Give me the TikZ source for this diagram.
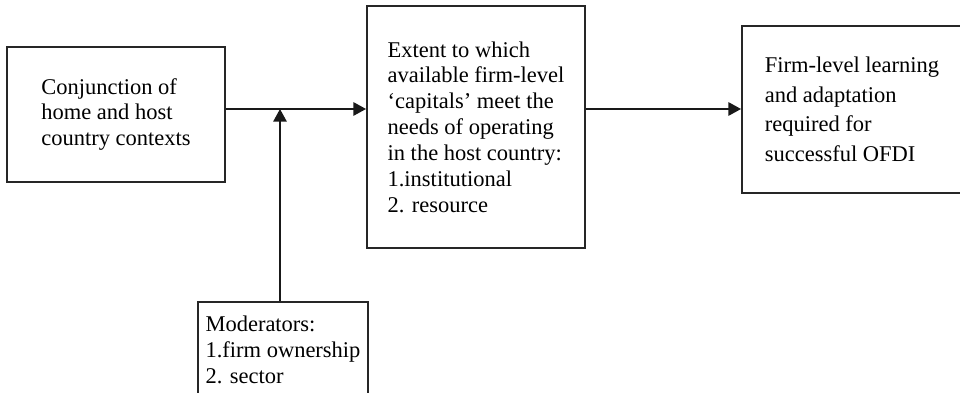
\documentclass[tikz,border=0pt]{standalone}
\usepackage{fontspec}
\setmainfont{Liberation Serif}
\usepackage{tikz}
\usetikzlibrary{arrows.meta}
\usetikzlibrary{positioning}
\tikzset{
box/.style = { rectangle, draw = black!85, line width = 1.3pt, fill = white, align = left, inner sep = 0pt, font = \fontsize{16}{18.4}\selectfont },
link/.style = { draw = black!90, line width = 1.3pt, -{Triangle[length = 9pt, width = 9.5pt]} },
}

\begin{document}
\begin{tikzpicture}[x = 0.025cm, y = -0.025cm]
    \clip (0, 0) rectangle (960, 393);
    \useasboundingbox (0, 0) rectangle (960, 393);
    \node[box, minimum width = 5.45cm, minimum height = 3.375cm] (context) at (116, 114.5) {Conjunction of\\home and host\\country contexts};
    \node[box, minimum width = 5.45cm, minimum height = 6.05cm] (capitals) at (476, 127) {Extent to which\\available firm-level\\‘capitals’ meet the\\needs of operating\\in the host country:\\1.institutional\\2. resource};
    \node[box, minimum width = 5.5cm, minimum height = 4.175cm, font = \fontsize{16}{21}\selectfont] (learning) at (852, 109.5) {Firm-level learning\\and adaptation\\required for\\successful OFDI};
    \node[box, minimum width = 4.25cm, minimum height = 2.4cm] (moderators) at (283, 350) {Moderators:\\1.firm ownership\\2. sector};
    \coordinate (meet) at (280, 109);
    \draw[link] (context.east |- meet) -- (capitals.west |- meet);
    \draw[link] (capitals.east |- meet) -- (learning.west |- meet);
    \draw[link] (moderators.north -| meet) -- (meet);
\end{tikzpicture}
\end{document}
